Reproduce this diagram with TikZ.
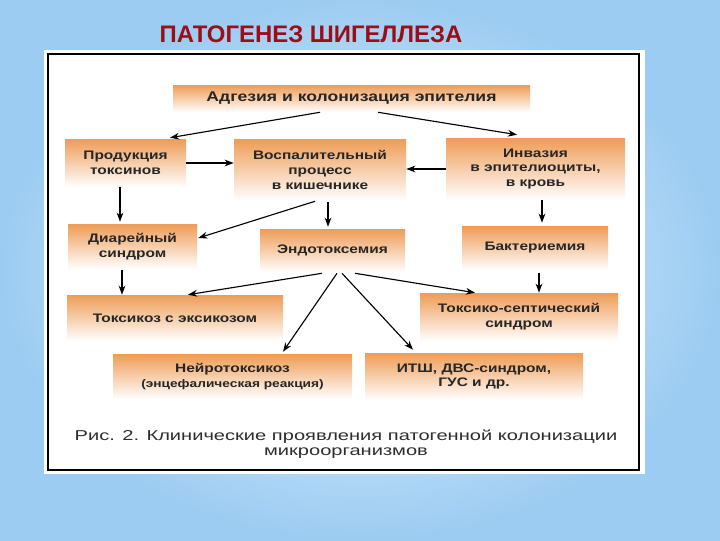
\documentclass[tikz,border=0pt]{standalone}
\usepackage{fontspec}
\setmainfont{Liberation Sans}
\newfontfamily\boxfont{Liberation Sans}[FakeStretch=1.25]
\newfontfamily\capfont{Liberation Sans}[FakeStretch=1.4]
\usetikzlibrary{calc,arrows.meta}
\definecolor{bgblue}{RGB}{156,204,242}
\definecolor{bglight}{RGB}{236,246,253}
\definecolor{titlered}{RGB}{155,14,22}
\definecolor{boxorange}{RGB}{238,156,86}
\definecolor{capgray}{RGB}{45,45,45}

\begin{document}
\begin{tikzpicture}[x=0.025cm, y=-0.025cm, >={Stealth[length=6.5pt,width=4.8pt]},
    box/.style={top color=boxorange, bottom color=white, inner sep=0pt, align=center,
        text=black!85, font=\boxfont\bfseries\fontsize{8.8}{10.5}\selectfont},
    sz/.style 2 args={minimum width=#1*0.025cm, minimum height=#2*0.025cm}]
    \useasboundingbox (0,0) rectangle (720,540);
    \shade[inner color=bglight, outer color=bgblue] (0,0) rectangle (720,540);
    \fill[white] (44,50) rectangle (645,474);
    \draw[line width=1pt] (48,54) rectangle (639,470);
    \node[anchor=base, text=titlered, font=\bfseries\fontsize{17}{19}\selectfont] (title) at (311,42) {ПАТОГЕНЕЗ ШИГЕЛЛЕЗА};
    % boxes
    \node[box, sz={357}{27}, font=\boxfont\bfseries\fontsize{10}{12}\selectfont] (adh) at (351.5,98.5) {Адгезия и колонизация эпителия};
    \node[box, sz={121}{48}] (prod) at (125.5,163) {Продукция\\токсинов};
    \node[box, sz={172}{62}] (inf) at (320,170) {Воспалительный\\процесс\\в кишечнике};
    \node[box, sz={179}{62}] (inv) at (535.5,169) {Инвазия\\в эпителиоциты,\\в кровь};
    \node[box, sz={129}{45}] (diar) at (132.5,246.5) {Диарейный\\синдром};
    \node[box, sz={145}{43}] (endo) at (332.5,250.5) {Эндотоксемия};
    \node[box, sz={146}{44}] (bact) at (535,248) {Бактериемия};
    \node[box, sz={216}{46}] (tox) at (175,318) {Токсикоз с эксикозом};
    \node[box, sz={198}{48}] (tss) at (519,317) {Токсико-септический\\синдром};
    \node[box, sz={239}{45}] (neuro) at (232.5,376.5) {Нейротоксикоз\\{\fontsize{7.8}{10}\selectfont(энцефалическая реакция)}};
    \node[box, sz={218}{47}] (itsh) at (474,376.5) {ИТШ, ДВС-синдром,\\ГУС и др.};
    % arrows
    \draw[->, thick] ($(adh.south)+(-31.5,0)$) -- ($(prod.north)+(44.5,-1)$);
    \draw[->, thick] ($(adh.south)+(26.5,0)$) -- ($(inv.north)+(-18.5,-3)$);
    \draw[->, thick] (prod.east) -- (prod.east -| inf.west);
    \draw[->, thick] (inv.west) -- (inv.west -| inf.east);
    \draw[->, thick] ($(prod.south)+(-5.5,0)$) coordinate (p1) -- ($(p1 |- diar.north)+(0,-2)$);
    \draw[->, thick] ($(inf.south)+(8,1)$) coordinate (p2) -- ($(p2 |- endo.north)+(0,-2)$);
    \draw[->, thick] ($(inv.south)+(6.5,0)$) coordinate (p3) -- ($(p3 |- bact.north)+(0,-3)$);
    \draw[->, thick] ($(inf.south)+(-5,0)$) -- ($(diar.east)+(1,-8.5)$);
    \draw[->, thick] ($(diar.south)+(-10.5,1)$) coordinate (p4) -- (p4 |- tox.north);
    \draw[->, thick] ($(bact.south)+(4,3)$) coordinate (p5) -- (p5 |- tss.north);
    \draw[->, thick] ($(endo.south)+(-10.5,1)$) -- ($(tox.north)+(13,0)$);
    \draw[->, thick] ($(endo.south)+(22.5,1)$) -- ($(tss.north)+(-44,0)$);
    \draw[->, thick] ($(endo.south)+(4.5,1)$) -- ($(neuro.north)+(50.5,-2)$);
    \draw[->, thick] ($(endo.south)+(9.5,1)$) -- ($(itsh.north)+(-61,-3)$);
    % caption
    \node[align=center, text=capgray, font=\capfont\fontsize{10.2}{10.8}\selectfont] (caption) at (346,444.5) {Рис. 2. Клинические проявления патогенной колонизации\\микроорганизмов};
\end{tikzpicture}
\end{document}
